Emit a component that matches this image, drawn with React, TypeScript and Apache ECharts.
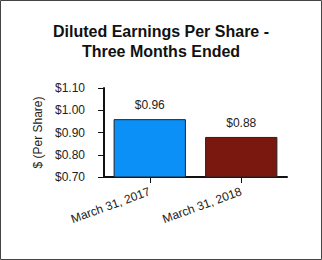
import React, { useEffect, useRef } from "react";
import * as echarts from "echarts";

const categories = ["March 31, 2017", "March 31, 2018"];
const values = [0.96, 0.88];
const barColors = ["#0A90F6", "#7A1810"];
const titleLines = ["Diluted Earnings Per Share -", "Three Months Ended"];
const yAxisName = "$ (Per Share)";
const yMin = 0.7;
const yMax = 1.1;
const yInterval = 0.1;

export default function App() {
  const ref = useRef<HTMLDivElement>(null);
  useEffect(() => {
    document.body.style.margin = "0";
    const chart = echarts.init(ref.current!, null, { renderer: "svg" });
    const font = "Liberation Sans, Arial, sans-serif";
    chart.setOption({
      animation: false,
      backgroundColor: "#ffffff",
      textStyle: { fontFamily: font },
      title: {
        text: titleLines.join("\n"),
        left: "center",
        top: 16,
        textStyle: {
          fontFamily: font,
          fontSize: 16,
          fontWeight: "bold",
          color: "#111",
          lineHeight: 20,
        },
      },
      graphic: [
        {
          type: "rect",
          shape: { x: 0.5, y: 0.5, width: 321, height: 259 },
          style: { fill: "none", stroke: "#444", lineWidth: 1 },
          silent: true,
        },
      ],
      grid: { left: 104, right: 35, top: 88, bottom: 83 },
      xAxis: {
        type: "category",
        data: categories,
        axisLine: { lineStyle: { color: "#111", width: 2 } },
        axisTick: { show: true, alignWithLabel: true, length: 6, lineStyle: { color: "#111", width: 1 } },
        axisLabel: { rotate: 20, fontSize: 12, color: "#222", margin: 14, fontFamily: font },
      },
      yAxis: {
        type: "value",
        min: yMin,
        max: yMax,
        interval: yInterval,
        name: yAxisName,
        nameLocation: "middle",
        nameGap: 60,
        nameTextStyle: { fontSize: 12, color: "#222", fontFamily: font },
        axisLine: { show: true, lineStyle: { color: "#111", width: 2 } },
        axisTick: { show: true, length: 6, lineStyle: { color: "#111" } },
        splitLine: { show: false },
        axisLabel: {
          fontSize: 12,
          color: "#222",
          margin: 19,
          fontFamily: font,
          formatter: (v: number) => "$" + v.toFixed(2),
        },
      },
      series: [
        {
          type: "bar",
          barWidth: "79%",
          data: values.map((v, i) => ({
            value: v,
            itemStyle: { color: barColors[i], borderColor: "#222", borderWidth: 1 },
          })),
          label: {
            show: true,
            position: "top",
            distance: 8,
            fontSize: 12,
            color: "#222",
            fontFamily: font,
            formatter: (p: any) => "$" + Number(p.value).toFixed(2),
          },
        },
      ],
    });
    return () => chart.dispose();
  }, []);
  return <div ref={ref} style={{ width: 322, height: 260 }} />;
}
